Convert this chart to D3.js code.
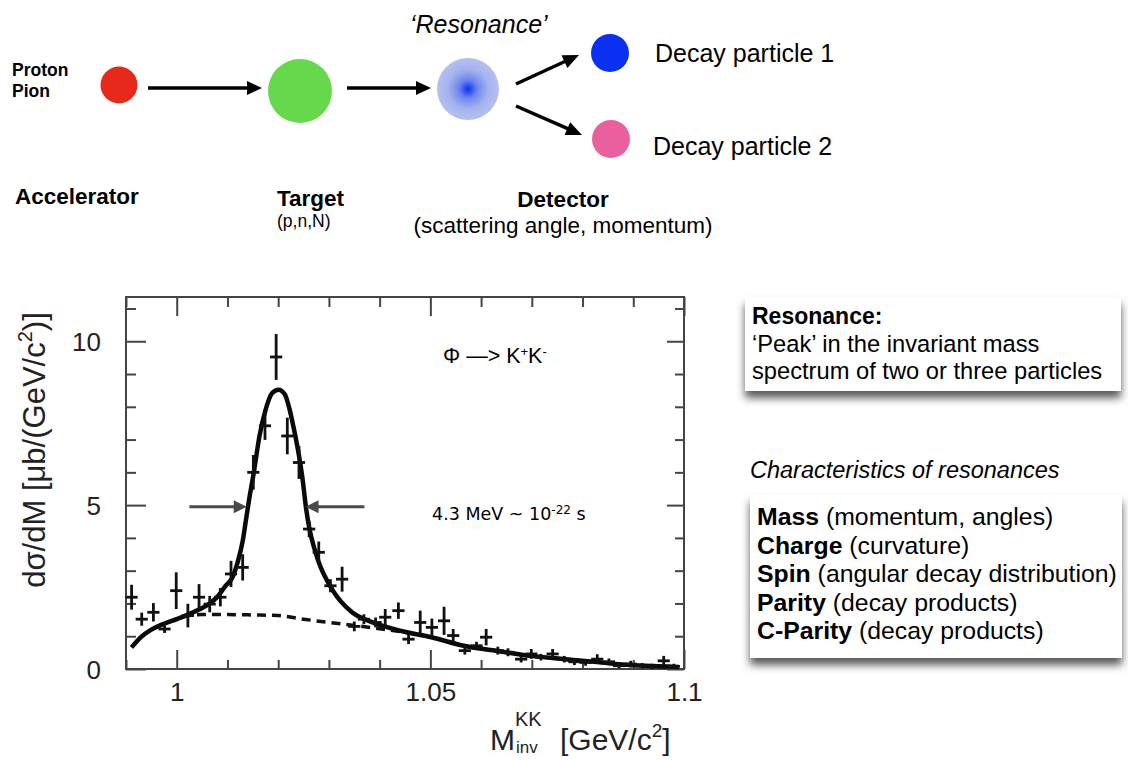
<!DOCTYPE html>
<html lang="en">
    <head>
        <meta charset="UTF-8" />
        <title>Resonance: phi -> K+K-</title>
        <script src="https://d3js.org/d3.v7.min.js"></script>
        <style>
            body { margin: 0; background: #fff; }
            svg { display: block; font-family: "Liberation Sans", Arial, Helvetica, sans-serif; }
        </style>
    </head>
    <body>
        <svg width="1128" height="760"></svg>

        <script>
            // measured points (invariant mass in GeV/c^2, dsigma/dM in ub/(GeV/c^2))
            const massGeV = [
                0.9911, 0.9931, 0.9954, 0.9976, 0.9999, 1.0022, 1.0044, 1.0065, 1.0086, 1.0107,
                1.013, 1.0151, 1.0174, 1.0196, 1.0218, 1.0241, 1.0261, 1.028, 1.0303, 1.0326,
                1.035, 1.0369, 1.0392, 1.0411, 1.0437, 1.0457, 1.048, 1.0503, 1.0527, 1.0545,
                1.0568, 1.0591, 1.061, 1.0633, 1.0653, 1.0679, 1.0699, 1.0718, 1.0741, 1.0764,
                1.0784, 1.0806, 1.0829, 1.0852, 1.0872, 1.0895, 1.0918, 1.0937, 1.096, 1.098
            ];
            const dsdm = [
                2.19, 1.52, 1.73, 1.22, 2.39, 1.63, 2.19, 1.98, 2.19, 2.9,
                3.1, 6.0, 7.42, 9.52, 7.11, 6.3, 4.27, 3.56, 2.54, 2.74,
                1.3, 1.52, 1.42, 1.58, 1.78, 0.91, 1.42, 1.27, 1.47, 1.02,
                0.56, 0.71, 0.97, 0.56, 0.51, 0.3, 0.46, 0.36, 0.46, 0.3,
                0.22, 0.2, 0.3, 0.22, 0.1, 0.15, 0.1, 0.08, 0.25, 0.08
            ];
            const dsdmErr = [
                0.38, 0.2, 0.28, 0.12, 0.56, 0.36, 0.4, 0.25, 0.28, 0.4,
                0.4, 0.53, 0.43, 0.7, 0.56, 0.5, 0.25, 0.33, 0.2, 0.38,
                0.15, 0.15, 0.15, 0.25, 0.25, 0.15, 0.36, 0.27, 0.43, 0.2,
                0.12, 0.12, 0.25, 0.12, 0.12, 0.1, 0.15, 0.1, 0.15, 0.1,
                0.1, 0.1, 0.15, 0.1, 0.08, 0.1, 0.08, 0.08, 0.15, 0.08
            ];
            const binHalfWidth = 0.0012;

            // fit (solid) and background (dashed)
            const fitMass = [
                0.9911, 0.993, 0.995, 0.9975, 1.0, 1.0022, 1.0045, 1.0065, 1.008, 1.0097,
                1.011, 1.012, 1.013, 1.0137, 1.0143, 1.0152, 1.0163, 1.0175, 1.0188, 1.0201,
                1.0213, 1.0222, 1.023, 1.024, 1.0248, 1.0255, 1.0262, 1.027, 1.028, 1.0306,
                1.0345, 1.0385, 1.0443, 1.0502, 1.0568, 1.0633, 1.0698, 1.0765, 1.083, 1.0894,
                1.096, 1.099
            ];
            const fitValue = [
                0.66, 0.98, 1.2, 1.38, 1.52, 1.66, 1.82, 2.0, 2.2, 2.55,
                2.8, 3.25, 3.9, 4.6, 5.2, 6.0, 7.1, 7.9, 8.42, 8.52,
                8.38, 7.95, 7.4, 6.6, 5.8, 4.9, 4.25, 3.75, 3.26, 2.44,
                1.74, 1.43, 1.16, 0.97, 0.7, 0.55, 0.4, 0.3, 0.21, 0.12,
                0.08, 0.06
            ];
            const bkgMass = [
                0.9911, 0.993, 0.995, 0.9975, 1.0, 1.002, 1.005, 1.01, 1.015, 1.02,
                1.025, 1.03, 1.035, 1.04, 1.045, 1.0502, 1.0568, 1.0633, 1.0698, 1.0765,
                1.083, 1.0894, 1.096, 1.099
            ];
            const bkgValue = [
                0.66, 0.98, 1.2, 1.38, 1.52, 1.62, 1.66, 1.66, 1.65, 1.63,
                1.52, 1.42, 1.33, 1.23, 1.12, 0.97, 0.7, 0.55, 0.4, 0.3,
                0.21, 0.12, 0.08, 0.06
            ];

            // FWHM arrows (mass of tail, mass of tip) at this height
            const fwhmLevel = 4.95;
            const fwhmLeft = [1.0025, 1.0138];
            const fwhmRight = [1.037, 1.0254];

            // axes
            const xMajor = [1.0, 1.05, 1.1];
            const xTickLabels = ["1", "1.05", "1.1"];
            const xMinor = [0.99, 1.01, 1.02, 1.03, 1.04, 1.06, 1.07, 1.08, 1.09];
            const yMajor = [0, 5, 10];
            const yTickLabels = ["0", "5", "10"];
            const yMinor = [1, 2, 3, 4, 6, 7, 8, 9, 11];

            const characteristics = [
                ["Mass", " (momentum, angles)"],
                ["Charge", " (curvature)"],
                ["Spin", " (angular decay distribution)"],
                ["Parity", " (decay products)"],
                ["C-Parity", " (decay products)"]
            ];

            const svg = d3.select("svg");
            const defs = svg.append("defs");

            const grad = defs.append("radialGradient").attr("id", "resGrad");
            grad.append("stop").attr("offset", "0%").attr("stop-color", "#0d2ff2");
            grad.append("stop").attr("offset", "30%").attr("stop-color", "#6d86ee");
            grad.append("stop").attr("offset", "65%").attr("stop-color", "#a4b3ee");
            grad.append("stop").attr("offset", "100%").attr("stop-color", "#b4c0f0");

            const shadow = defs.append("filter").attr("id", "shadow")
                .attr("x", "-5%").attr("y", "-10%").attr("width", "110%").attr("height", "135%");
            shadow.append("feDropShadow").attr("dx", 0).attr("dy", 7)
                .attr("stdDeviation", 4.5).attr("flood-color", "#000").attr("flood-opacity", 0.65);

            // simple arrow: line + filled head
            function arrow(g, x1, y1, x2, y2, color, w, headLen, headW) {
                const a = Math.atan2(y2 - y1, x2 - x1);
                const bx = x2 - headLen * Math.cos(a), by = y2 - headLen * Math.sin(a);
                g.append("line").attr("x1", x1).attr("y1", y1).attr("x2", bx + Math.cos(a))
                    .attr("y2", by + Math.sin(a)).attr("stroke", color).attr("stroke-width", w);
                const px = -Math.sin(a) * headW / 2, py = Math.cos(a) * headW / 2;
                g.append("path")
                    .attr("d", `M${x2},${y2}L${bx + px},${by + py}L${bx - px},${by - py}Z`)
                    .attr("fill", color);
            }

            // ---------- top diagram ----------
            const diagram = svg.append("g");
            diagram.append("text").attr("x", 12).attr("y", 76).attr("font-size", 17.5)
                .attr("font-weight", "bold").text("Proton");
            diagram.append("text").attr("x", 12).attr("y", 97).attr("font-size", 17.5)
                .attr("font-weight", "bold").text("Pion");

            diagram.append("circle").attr("cx", 119).attr("cy", 85).attr("r", 18.5).attr("fill", "#e8281b");
            arrow(diagram, 148, 88, 262, 88, "#000", 3.5, 15, 14);
            diagram.append("circle").attr("cx", 300).attr("cy", 91).attr("r", 32).attr("fill", "#66d84b");
            arrow(diagram, 347, 88, 431, 88, "#000", 3.5, 15, 14);
            diagram.append("circle").attr("cx", 468).attr("cy", 89).attr("r", 31).attr("fill", "url(#resGrad)");
            arrow(diagram, 516, 84, 579, 55, "#000", 3.5, 16, 14);
            arrow(diagram, 516, 106, 582, 135, "#000", 3.5, 16, 14);
            diagram.append("circle").attr("cx", 610).attr("cy", 53).attr("r", 19).attr("fill", "#0b30f2");
            diagram.append("circle").attr("cx", 611).attr("cy", 139).attr("r", 19).attr("fill", "#ea609f");

            diagram.append("text").attr("x", 410).attr("y", 33).attr("font-size", 25)
                .attr("font-style", "italic").text("\u2018Resonance\u2019");
            diagram.append("text").attr("x", 655).attr("y", 62).attr("font-size", 25).text("Decay particle 1");
            diagram.append("text").attr("x", 653).attr("y", 155).attr("font-size", 25).text("Decay particle 2");

            diagram.append("text").attr("x", 15).attr("y", 204).attr("font-size", 22.5)
                .attr("font-weight", "bold").text("Accelerator");
            diagram.append("text").attr("x", 277).attr("y", 206).attr("font-size", 22.5)
                .attr("font-weight", "bold").text("Target");
            diagram.append("text").attr("x", 277).attr("y", 227).attr("font-size", 17.5).text("(p,n,N)");
            diagram.append("text").attr("x", 563).attr("y", 207).attr("font-size", 22.5)
                .attr("font-weight", "bold").attr("text-anchor", "middle").text("Detector");
            diagram.append("text").attr("x", 563).attr("y", 233).attr("font-size", 22.5)
                .attr("text-anchor", "middle").text("(scattering angle, momentum)");

            // ---------- plot ----------
            const plot = { left: 126, right: 684, top: 297, bottom: 669 };
            const x = d3.scaleLinear().domain([0.99, 1.1]).range([plot.left, plot.right]);
            const y = d3.scaleLinear().domain([0, 11.35]).range([plot.bottom, plot.top]);
            const axisColor = "#444";

            function styleAxis(g) {
                g.select(".domain").remove();
                g.selectAll("line").attr("stroke", axisColor).attr("stroke-width", 2);
                g.selectAll("text").attr("fill", "#222").attr("font-size", 26)
                    .attr("font-family", "Liberation Sans, Arial, sans-serif");
            }

            svg.append("g").attr("transform", `translate(${plot.left},0)`)
                .call(d3.axisLeft(y).tickValues(yMajor).tickSize(-20).tickPadding(25)
                    .tickFormat((d, i) => yTickLabels[i]))
                .call(styleAxis)
                .selectAll("text").attr("dy", "0.36em");
            svg.append("g").attr("transform", `translate(${plot.left},0)`)
                .call(d3.axisLeft(y).tickValues(yMinor).tickSize(-10).tickFormat(""))
                .call(styleAxis);
            svg.append("g").attr("transform", `translate(${plot.right},0)`)
                .call(d3.axisRight(y).tickValues(yMajor).tickSize(-17).tickFormat(""))
                .call(styleAxis);
            svg.append("g").attr("transform", `translate(${plot.right},0)`)
                .call(d3.axisRight(y).tickValues(yMinor).tickSize(-9).tickFormat(""))
                .call(styleAxis);
            svg.append("g").attr("transform", `translate(0,${plot.bottom})`)
                .call(d3.axisBottom(x).tickValues(xMajor).tickSize(-19).tickPadding(14)
                    .tickFormat((d, i) => xTickLabels[i]))
                .call(styleAxis);
            svg.append("g").attr("transform", `translate(0,${plot.bottom})`)
                .call(d3.axisBottom(x).tickValues(xMinor).tickSize(-9).tickFormat(""))
                .call(styleAxis);
            svg.append("g").attr("transform", `translate(0,${plot.top})`)
                .call(d3.axisTop(x).tickValues(xMajor).tickSize(-19).tickFormat(""))
                .call(styleAxis);
            svg.append("g").attr("transform", `translate(0,${plot.top})`)
                .call(d3.axisTop(x).tickValues(xMinor).tickSize(-10).tickFormat(""))
                .call(styleAxis);

            svg.append("rect")
                .attr("x", plot.left).attr("y", plot.top)
                .attr("width", plot.right - plot.left).attr("height", plot.bottom - plot.top)
                .attr("fill", "none").attr("stroke", axisColor).attr("stroke-width", 2);

            // curves
            const line = d3.line().x((d) => x(d[0])).y((d) => y(d[1])).curve(d3.curveMonotoneX);
            svg.append("path")
                .datum(bkgMass.map((m, i) => [m, bkgValue[i]]))
                .attr("d", line).attr("fill", "none").attr("stroke", "#111")
                .attr("stroke-width", 3.5).attr("stroke-dasharray", "9,6");
            svg.append("path")
                .datum(fitMass.map((m, i) => [m, fitValue[i]]))
                .attr("d", line).attr("fill", "none").attr("stroke", "#0a0a0a")
                .attr("stroke-width", 4.5).attr("stroke-linejoin", "round");

            // data crosses
            const pts = svg.append("g").attr("stroke", "#111").attr("stroke-width", 2.8);
            massGeV.forEach((m, i) => {
                pts.append("line")
                    .attr("x1", x(m)).attr("x2", x(m))
                    .attr("y1", y(dsdm[i] - dsdmErr[i])).attr("y2", y(dsdm[i] + dsdmErr[i]));
                pts.append("line")
                    .attr("x1", x(m - binHalfWidth)).attr("x2", x(m + binHalfWidth))
                    .attr("y1", y(dsdm[i])).attr("y2", y(dsdm[i]));
            });

            // FWHM arrows
            arrow(svg, x(fwhmLeft[0]), y(fwhmLevel), x(fwhmLeft[1]), y(fwhmLevel), "#4a4a4a", 3, 13, 13);
            arrow(svg, x(fwhmRight[0]), y(fwhmLevel), x(fwhmRight[1]), y(fwhmLevel), "#4a4a4a", 3, 13, 13);

            // plot annotations
            const decay = svg.append("text").attr("x", 443).attr("y", 363).attr("font-size", 21.5);
            decay.append("tspan").text("\u03A6 \u2014> K");
            decay.append("tspan").attr("font-size", 13).attr("dy", -7).text("+");
            decay.append("tspan").attr("dy", 7).text("K");
            decay.append("tspan").attr("font-size", 13).attr("dy", -7).text("-");

            const width43 = svg.append("text").attr("x", 432).attr("y", 520)
                .attr("font-size", 17.5).attr("font-family", "DejaVu Sans, Verdana, sans-serif");
            width43.append("tspan").text("4.3 MeV ~ 10");
            width43.append("tspan").attr("font-size", 12).attr("dy", -6).text("-22");
            width43.append("tspan").attr("dy", 6).text(" s");

            // axis titles
            const yTitle = svg.append("text")
                .attr("transform", "translate(45,450) rotate(-90)")
                .attr("text-anchor", "middle").attr("font-size", 31).attr("fill", "#222");
            yTitle.append("tspan").text("d\u03C3/dM [\u03BCb/(GeV/c");
            yTitle.append("tspan").attr("font-size", 20).attr("dy", -13).text("2");
            yTitle.append("tspan").attr("dy", 13).text(")]");

            svg.append("text").attr("x", 490).attr("y", 750).attr("font-size", 30)
                .attr("fill", "#222").text("M");
            svg.append("text").attr("x", 515).attr("y", 726).attr("font-size", 20)
                .attr("fill", "#222").text("KK");
            svg.append("text").attr("x", 516).attr("y", 753).attr("font-size", 17)
                .attr("fill", "#222").text("inv");
            const xTitle = svg.append("text").attr("x", 560).attr("y", 750)
                .attr("font-size", 30).attr("fill", "#222");
            xTitle.append("tspan").text("[GeV/c");
            xTitle.append("tspan").attr("font-size", 19).attr("dy", -13).text("2");
            xTitle.append("tspan").attr("dy", 13).text("]");

            // ---------- right side boxes ----------
            svg.append("rect").attr("x", 745).attr("y", 297).attr("width", 376).attr("height", 94)
                .attr("fill", "#fff").attr("filter", "url(#shadow)");
            svg.append("text").attr("x", 752).attr("y", 324).attr("font-size", 23)
                .attr("font-weight", "bold").text("Resonance:");
            svg.append("text").attr("x", 752).attr("y", 352).attr("font-size", 23.7)
                .text("\u2018Peak\u2019 in the invariant mass");
            svg.append("text").attr("x", 752).attr("y", 379).attr("font-size", 23.7)
                .text("spectrum of two or three particles");

            svg.append("text").attr("x", 750).attr("y", 478).attr("font-size", 23.5)
                .attr("font-style", "italic").text("Characteristics of resonances");

            svg.append("rect").attr("x", 750).attr("y", 495).attr("width", 372).attr("height", 163)
                .attr("fill", "#fff").attr("filter", "url(#shadow)");
            characteristics.forEach((c, i) => {
                const t = svg.append("text").attr("x", 757).attr("y", 525 + i * 28.5).attr("font-size", 24.8);
                t.append("tspan").attr("font-weight", "bold").text(c[0]);
                t.append("tspan").text(c[1]);
            });
        </script>
    </body>
</html>
